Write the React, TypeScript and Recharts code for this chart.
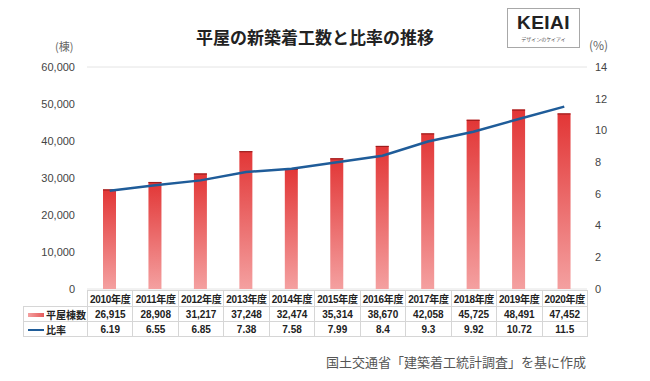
import React from "react";
import {
  ComposedChart,
  Bar,
  Line,
  XAxis,
  YAxis,
  CartesianGrid,
  Rectangle,
} from "recharts";

const years = [
  "2010年度", "2011年度", "2012年度", "2013年度", "2014年度", "2015年度",
  "2016年度", "2017年度", "2018年度", "2019年度", "2020年度",
];
const houses = [26915, 28908, 31217, 37248, 32474, 35314, 38670, 42058, 45725, 48491, 47452];
const ratio = [6.19, 6.55, 6.85, 7.38, 7.58, 7.99, 8.4, 9.3, 9.92, 10.72, 11.5];
const leftTicks = [0, 10000, 20000, 30000, 40000, 50000, 60000];
const rightTicks = [0, 2, 4, 6, 8, 10, 12, 14];

const data = years.map((year, i) => ({ year, houses: houses[i], ratio: ratio[i] }));

const PLOT_LEFT = 87;
const PLOT_RIGHT = 587;
const COL_W = (PLOT_RIGHT - PLOT_LEFT) / years.length;
const FONT = "'Liberation Sans', Arial, 'Noto Sans CJK JP', sans-serif";
const JP = "'Noto Sans CJK JP', sans-serif";
const BORDER = "1px solid #d6d6d6";

const BarShape = (props: any) => {
  const { x, y, width, height } = props;
  return (
    <g>
      <Rectangle x={x} y={y} width={width} height={height} fill="url(#barGrad)" />
      <line x1={x} x2={x + width} y1={y + 0.5} y2={y + 0.5} stroke="#9e1d1d" strokeWidth={1.2} />
    </g>
  );
};

const cell = (left: number, top: number, width: number, height: number, extra: any = {}) => ({
  position: "absolute" as const,
  left,
  top,
  width,
  height,
  lineHeight: `${height}px`,
  textAlign: "center" as const,
  boxSizing: "border-box" as const,
  ...extra,
});

export default function App() {
  const rows = [
    { top: 290, h: 16, vals: years },
    { top: 306, h: 15, vals: houses.map((v) => v.toLocaleString("en-US")) },
    { top: 321, h: 15, vals: ratio.map((v) => String(v)) },
  ];

  return (
    <div
      style={{
        position: "absolute",
        left: 0,
        top: 0,
        width: 650,
        height: 381,
        background: "#fff",
        fontFamily: FONT,
        overflow: "hidden",
      }}
    >
      <div
        style={{
          position: "absolute",
          left: 0,
          width: 630,
          top: 24,
          textAlign: "center",
          fontFamily: JP,
          fontWeight: 700,
          fontSize: 17,
          color: "#222",
        }}
      >
        平屋の新築着工数と比率の推移
      </div>

      <div
        style={{
          position: "absolute",
          left: 507,
          top: 8,
          width: 73,
          height: 40,
          border: "1px solid #a8a8a8",
          boxSizing: "border-box",
        }}
      >
        <div
          style={{
            position: "absolute",
            left: 0,
            width: 71,
            top: 4,
            textAlign: "center",
            fontFamily: "'Liberation Sans', Arial, sans-serif",
            fontWeight: 700,
            fontSize: 19,
            letterSpacing: 0.5,
            color: "#222",
            lineHeight: "20px",
          }}
        >
          KEIAI
        </div>
        <div
          style={{
            position: "absolute",
            left: 0,
            width: 71,
            top: 27,
            textAlign: "center",
            fontFamily: JP,
            fontSize: 5,
            color: "#555",
            lineHeight: "6px",
          }}
        >
          デザインのケイアイ
        </div>
      </div>

      <div style={{ position: "absolute", left: 55, top: 38, fontSize: 11, color: "#666", fontFamily: JP }}>
        (棟)
      </div>
      <div style={{ position: "absolute", left: 589, top: 36, fontSize: 12, color: "#666", fontFamily: JP }}>
        (%)
      </div>

      <div style={{ position: "absolute", left: 0, top: 0 }}>
        <ComposedChart
          width={650}
          height={300}
          data={data}
          margin={{ top: 67, right: 0, bottom: 11, left: 0 }}
        >
          <defs>
            <linearGradient id="barGrad" x1="0" y1="0" x2="0" y2="1">
              <stop offset="0%" stopColor="#e23636" />
              <stop offset="100%" stopColor="#f4a0a0" />
            </linearGradient>
          </defs>
          <CartesianGrid vertical={false} stroke="#e4e4e4" strokeWidth={1} />
          <XAxis dataKey="year" hide />
          <YAxis
            yAxisId="left"
            orientation="left"
            width={87}
            domain={[0, 60000]}
            ticks={leftTicks}
            tickFormatter={(v: number) => v.toLocaleString("en-US")}
            axisLine={false}
            tickLine={false}
            tickSize={0}
            tickMargin={12}
            tick={{ fontSize: 11, fill: "#444", fontFamily: FONT }}
          />
          <YAxis
            yAxisId="right"
            orientation="right"
            width={63}
            domain={[0, 14]}
            ticks={rightTicks}
            axisLine={false}
            tickLine={false}
            tickSize={0}
            tickMargin={8}
            tick={{ fontSize: 11, fill: "#444", fontFamily: FONT }}
          />
          <Bar
            yAxisId="left"
            dataKey="houses"
            barSize={13}
            shape={BarShape}
            isAnimationActive={false}
          />
          <Line
            yAxisId="right"
            dataKey="ratio"
            type="linear"
            stroke="#1f5c99"
            strokeWidth={2.5}
            dot={false}
            activeDot={false}
            isAnimationActive={false}
          />
        </ComposedChart>
      </div>

      {rows.map((row, r) =>
        row.vals.map((v, i) => (
          <div
            key={`${r}-${i}`}
            style={cell(PLOT_LEFT + i * COL_W, row.top, COL_W + 1, row.h + 1, {
              border: BORDER,
              fontSize: 10,
              fontWeight: 700,
              color: "#222",
              letterSpacing: r === 0 ? -0.3 : 0,
            })}
          >
            {v}
          </div>
        ))
      )}

      <div style={cell(23, 306, PLOT_LEFT - 23 + 1, 16, { border: BORDER, textAlign: "left" })}>
        <span
          style={{
            position: "absolute",
            left: 4,
            top: 6,
            width: 16,
            height: 4,
            background: "linear-gradient(to right, #f4a0a0, #e55a5a)",
          }}
        />
        <span style={{ position: "absolute", left: 22, fontFamily: JP, fontSize: 10, fontWeight: 700, color: "#222" }}>
          平屋棟数
        </span>
      </div>
      <div style={cell(23, 321, PLOT_LEFT - 23 + 1, 16, { border: BORDER, textAlign: "left" })}>
        <span
          style={{
            position: "absolute",
            left: 4,
            top: 7,
            width: 16,
            height: 2,
            background: "#1f5c99",
          }}
        />
        <span style={{ position: "absolute", left: 22, fontFamily: JP, fontSize: 10, fontWeight: 700, color: "#222" }}>
          比率
        </span>
      </div>

      <div
        style={{
          position: "absolute",
          right: 64,
          top: 352,
          fontFamily: JP,
          fontSize: 13,
          color: "#555",
        }}
      >
        国土交通省「建築着工統計調査」を基に作成
      </div>
    </div>
  );
}
